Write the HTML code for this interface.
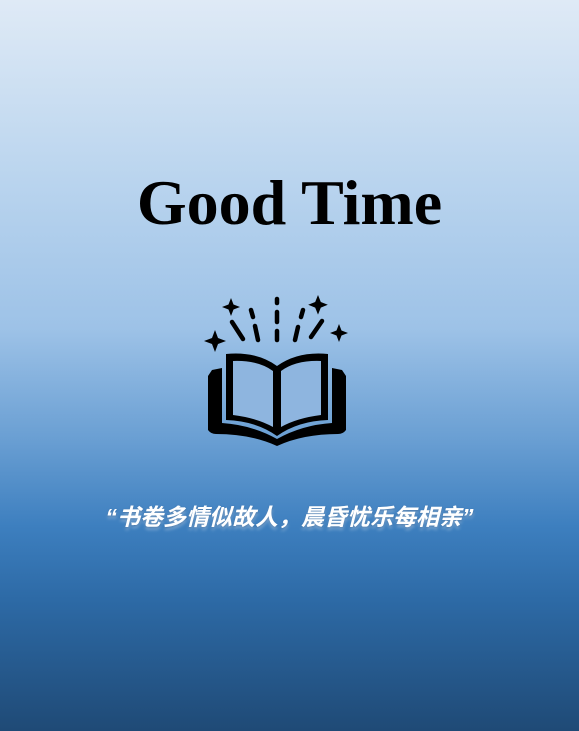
<!DOCTYPE html>
<html><head><meta charset="utf-8">
<style>
html,body{margin:0;padding:0}
body{width:579px;height:731px;overflow:hidden;position:relative;
background:linear-gradient(to bottom,#dfeaf6 0%,#b9d4ee 25%,#9dc2e7 45%,#6a9fd3 60%,#3d7fbf 72%,#2d6aa6 82%,#1f4a76 100%);}
.title{position:absolute;left:0;width:579px;top:163px;text-align:center;font-family:"Liberation Serif",serif;font-weight:bold;font-size:64px;color:#000;line-height:80px;}
.quote{position:absolute;left:0;width:579px;top:498px;text-align:center;font-family:"Liberation Sans","Noto Sans CJK SC",sans-serif;font-weight:bold;font-style:italic;font-size:23px;color:#fff;text-shadow:0 3px 3px rgba(255,255,255,0.35),0 1px 2px rgba(0,40,90,0.4);}
svg{position:absolute;left:0;top:0}
</style></head>
<body>
<div class="title">Good Time</div>
<svg width="579" height="731">
 <g fill="#000" stroke="none">
  <path d="M215 330 l3 8 l8 3 l-8 3 l-3 8 l-3 -8 l-8 -3 l8 -3z"/>
  <path d="M231 298 l2.5 6.5 l6.5 2.5 l-6.5 2.5 l-2.5 6.5 l-2.5 -6.5 l-6.5 -2.5 l6.5 -2.5z"/>
  <path d="M318 295 l2.8 7 l7 2.8 l-7 2.8 l-2.8 7 l-2.8 -7 l-7 -2.8 l7 -2.8z"/>
  <path d="M339 324 l2.5 6.5 l6.5 2.5 l-6.5 2.5 l-2.5 6.5 l-2.5 -6.5 l-6.5 -2.5 l6.5 -2.5z"/>
 </g>
 <g stroke="#000" stroke-width="4.5" stroke-linecap="round" fill="none">
  <line x1="277" y1="299" x2="277" y2="303"/>
  <line x1="277" y1="312" x2="277" y2="322"/>
  <line x1="277" y1="331" x2="277" y2="340"/>
  <line x1="251" y1="310" x2="253" y2="317"/>
  <line x1="255" y1="326" x2="258" y2="340"/>
  <line x1="303" y1="310" x2="301" y2="317"/>
  <line x1="298" y1="327" x2="295" y2="340"/>
  <line x1="232" y1="322" x2="243" y2="339"/>
  <line x1="322" y1="321" x2="311" y2="337"/>
 </g>
 <g fill="#000">
  <path d="M212 370 l10 -2 l0 55 q30 2 55 16 q25 -14 55 -16 l0 -55 l10 2 l4 6 l0 54 q-3 4 -8 4 q-35 0 -61 12 q-26 -12 -61 -12 q-5 0 -8 -4 l0 -54z"/>
  <path d="M226 354 q30 -3 51 12 q21 -15 51 -12 l0 66 q-30 1 -51 16 q-21 -15 -51 -16z"/>
 </g>
 <g fill="#8eb5df">
  <path d="M233 361 q25 -1 40 10 l0 56 q-16 -9 -40 -12z"/>
  <path d="M321 361 q-25 -1 -40 10 l0 56 q16 -9 40 -12z"/>
 </g>
</svg>
<div class="quote">“书卷多情似故人，晨昏忧乐每相亲”</div>
</body></html>
